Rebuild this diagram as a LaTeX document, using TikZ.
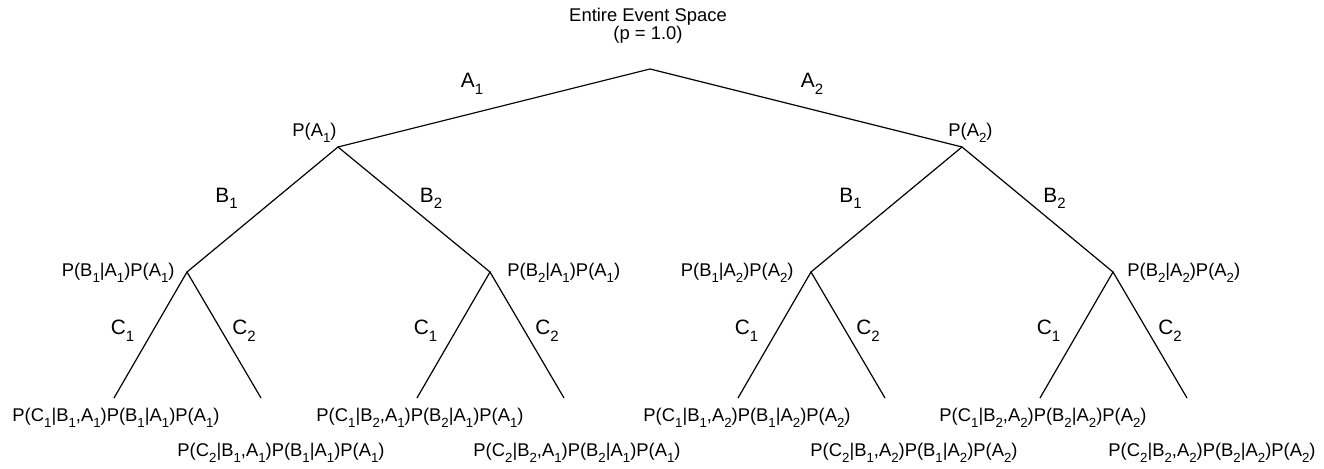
\documentclass[tikz,border=0pt]{standalone}
\usepackage{fontspec}
\setmainfont{Liberation Sans}
\usepackage{graphicx}
\usetikzlibrary{calc}

\newcommand{\subx}[1]{\raisebox{-0.3em}{\scalebox{0.72}{#1}}}

\begin{document}
\begin{tikzpicture}[
  x=0.5pt, y=-0.5pt,
  branch/.style={line width=0.6pt, draw=black},
  prob/.style={inner sep=0pt, font=\fontsize{9.2}{9}\selectfont},
  leaf/.style={prob, anchor=base},
  lbl/.style={inner sep=0pt, anchor=base, font=\fontsize{10.4}{12}\selectfont},
]
\useasboundingbox (0,0) rectangle (1324,469);

% ---- branch points ----
\coordinate (root) at (650,69);
\coordinate (a1) at (338,147);
\coordinate (a2) at (962,147);
\coordinate (b11) at (187,272);
\coordinate (b12) at (490,272);
\coordinate (b21) at (811,272);
\coordinate (b22) at (1113,272);
\coordinate (c111) at ($(b11)+(-73,126)$);
\coordinate (c112) at ($(b11)+(74,126)$);
\coordinate (c121) at ($(b12)+(-73,126)$);
\coordinate (c122) at ($(b12)+(74,126)$);
\coordinate (c211) at ($(b21)+(-73,126)$);
\coordinate (c212) at ($(b21)+(74,126)$);
\coordinate (c221) at ($(b22)+(-73,126)$);
\coordinate (c222) at ($(b22)+(74,126)$);

% ---- branches ----
\draw[branch] (a1) -- (root) -- (a2);
\draw[branch] (b11) -- (a1) -- (b12);
\draw[branch] (b21) -- (a2) -- (b22);
\draw[branch] (c111) -- (b11) -- (c112);
\draw[branch] (c121) -- (b12) -- (c122);
\draw[branch] (c211) -- (b21) -- (c212);
\draw[branch] (c221) -- (b22) -- (c222);

% ---- branch labels ----
\node[lbl] (la1) at ($(root)!0.5!(a1)+(-22,-20)$) {A\subx{1}};
\node[lbl] (la2) at ($(root)!0.5!(a2)+(6,-20)$) {A\subx{2}};
\node[lbl] (lb11) at ($(a1)!0.5!(b11)+(-36,-7)$) {B\subx{1}};
\node[lbl] (lb12) at ($(a1)!0.5!(b12)+(17,-7)$) {B\subx{2}};
\node[lbl] (lb21) at ($(a2)!0.5!(b21)+(-36,-7)$) {B\subx{1}};
\node[lbl] (lb22) at ($(a2)!0.5!(b22)+(17,-7)$) {B\subx{2}};
\node[lbl] (lc111) at ($(b11)!0.5!(c111)+(-28,0)$) {C\subx{1}};
\node[lbl] (lc112) at ($(b11)!0.5!(c112)+(20,0)$) {C\subx{2}};
\node[lbl] (lc121) at ($(b12)!0.5!(c121)+(-28,0)$) {C\subx{1}};
\node[lbl] (lc122) at ($(b12)!0.5!(c122)+(20,0)$) {C\subx{2}};
\node[lbl] (lc211) at ($(b21)!0.5!(c211)+(-28,0)$) {C\subx{1}};
\node[lbl] (lc212) at ($(b21)!0.5!(c212)+(20,0)$) {C\subx{2}};
\node[lbl] (lc221) at ($(b22)!0.5!(c221)+(-28,0)$) {C\subx{1}};
\node[lbl] (lc222) at ($(b22)!0.5!(c222)+(20,0)$) {C\subx{2}};

% ---- probabilities ----
\node[prob, align=center, anchor=north] (space) at ($(root)+(-2,-61)$) {Entire Event Space\\(p = 1.0)};
\node[prob, anchor=base east] (pa1) at ($(a1)+(-1,-10)$) {P(A\subx{1})};
\node[prob, anchor=base west] (pa2) at ($(a2)+(-14,-10)$) {P(A\subx{2})};
\node[prob, anchor=base east] (pb11) at ($(b11)+(-12,5)$) {P(B\subx{1}|A\subx{1})P(A\subx{1})};
\node[prob, anchor=base west] (pb12) at ($(b12)+(17,5)$) {P(B\subx{2}|A\subx{1})P(A\subx{1})};
\node[prob, anchor=base east] (pb21) at ($(b21)+(-17,5)$) {P(B\subx{1}|A\subx{2})P(A\subx{2})};
\node[prob, anchor=base west] (pb22) at ($(b22)+(14,5)$) {P(B\subx{2}|A\subx{2})P(A\subx{2})};

% ---- leaves (C1 row on top, C2 row below) ----
\node[leaf] (p111) at ($(c111)+(2,24)$) {P(C\subx{1}|B\subx{1},A\subx{1})P(B\subx{1}|A\subx{1})P(A\subx{1})};
\node[leaf] (p112) at ($(c112)+(20,59)$) {P(C\subx{2}|B\subx{1},A\subx{1})P(B\subx{1}|A\subx{1})P(A\subx{1})};
\node[leaf] (p121) at ($(c121)+(3,24)$) {P(C\subx{1}|B\subx{2},A\subx{1})P(B\subx{2}|A\subx{1})P(A\subx{1})};
\node[leaf] (p122) at ($(c122)+(13,59)$) {P(C\subx{2}|B\subx{2},A\subx{1})P(B\subx{2}|A\subx{1})P(A\subx{1})};
\node[leaf] (p211) at ($(c211)+(9,24)$) {P(C\subx{1}|B\subx{1},A\subx{2})P(B\subx{1}|A\subx{2})P(A\subx{2})};
\node[leaf] (p212) at ($(c212)+(29,59)$) {P(C\subx{2}|B\subx{1},A\subx{2})P(B\subx{1}|A\subx{2})P(A\subx{2})};
\node[leaf] (p221) at ($(c221)+(3,24)$) {P(C\subx{1}|B\subx{2},A\subx{2})P(B\subx{2}|A\subx{2})P(A\subx{2})};
\node[leaf] (p222) at ($(c222)+(25,59)$) {P(C\subx{2}|B\subx{2},A\subx{2})P(B\subx{2}|A\subx{2})P(A\subx{2})};
\end{tikzpicture}
\end{document}
